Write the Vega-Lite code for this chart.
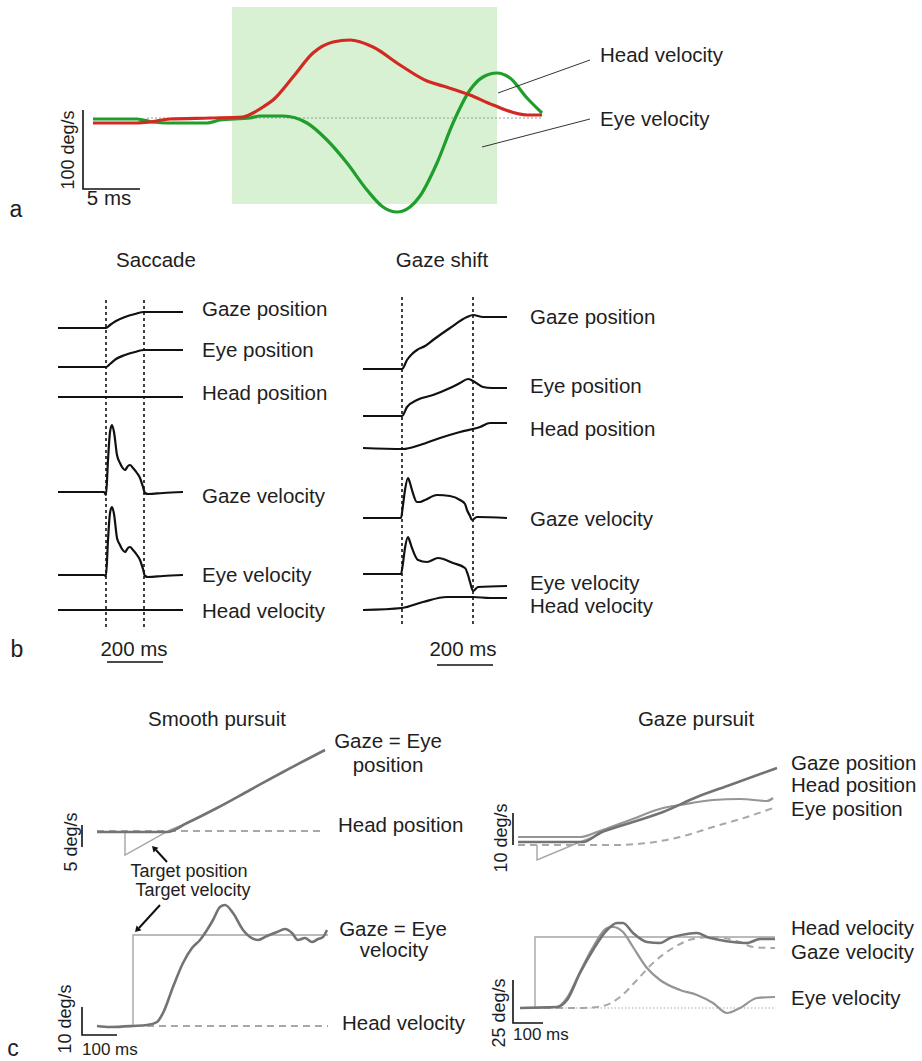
{
  "$schema": "https://vega.github.io/schema/vega-lite/v6.json",
  "width": 922,
  "height": 1061,
  "padding": 0,
  "autosize": {"type": "none"},
  "background": "white",
  "config": {"view": {"stroke": null}, "text": {"font": "Liberation Sans", "color": "#1e1e1e"}},
  "datasets": {
    "bands": [{"x": 232, "x2": 497, "y": 7, "y2": 204}],
    "traces": [
      {"trace": "a_eye", "x": 93, "y": 119}, {"trace": "a_eye", "x": 137, "y": 119}, {"trace": "a_eye", "x": 153, "y": 122}, {"trace": "a_eye", "x": 167, "y": 123}, {"trace": "a_eye", "x": 207, "y": 123}, {"trace": "a_eye", "x": 220, "y": 120}, {"trace": "a_eye", "x": 250, "y": 118}, {"trace": "a_eye", "x": 260, "y": 116}, {"trace": "a_eye", "x": 283, "y": 116}, {"trace": "a_eye", "x": 307, "y": 123}, {"trace": "a_eye", "x": 327, "y": 140}, {"trace": "a_eye", "x": 347, "y": 163}, {"trace": "a_eye", "x": 367, "y": 190}, {"trace": "a_eye", "x": 383, "y": 207}, {"trace": "a_eye", "x": 397, "y": 212}, {"trace": "a_eye", "x": 410, "y": 207}, {"trace": "a_eye", "x": 420, "y": 196}, {"trace": "a_eye", "x": 437, "y": 163}, {"trace": "a_eye", "x": 453, "y": 123}, {"trace": "a_eye", "x": 470, "y": 90}, {"trace": "a_eye", "x": 483, "y": 77}, {"trace": "a_eye", "x": 497, "y": 73}, {"trace": "a_eye", "x": 510, "y": 78}, {"trace": "a_eye", "x": 527, "y": 98}, {"trace": "a_eye", "x": 542, "y": 113},
      {"trace": "a_head", "x": 93, "y": 123}, {"trace": "a_head", "x": 137, "y": 123}, {"trace": "a_head", "x": 150, "y": 122}, {"trace": "a_head", "x": 170, "y": 119}, {"trace": "a_head", "x": 210, "y": 118}, {"trace": "a_head", "x": 243, "y": 117}, {"trace": "a_head", "x": 253, "y": 113}, {"trace": "a_head", "x": 263, "y": 107}, {"trace": "a_head", "x": 273, "y": 100}, {"trace": "a_head", "x": 293, "y": 77}, {"trace": "a_head", "x": 313, "y": 53}, {"trace": "a_head", "x": 333, "y": 42}, {"trace": "a_head", "x": 350, "y": 40}, {"trace": "a_head", "x": 373, "y": 47}, {"trace": "a_head", "x": 400, "y": 65}, {"trace": "a_head", "x": 427, "y": 81}, {"trace": "a_head", "x": 443, "y": 86}, {"trace": "a_head", "x": 470, "y": 95}, {"trace": "a_head", "x": 493, "y": 105}, {"trace": "a_head", "x": 527, "y": 115}, {"trace": "a_head", "x": 542, "y": 115},
      {"trace": "a_base", "x": 147, "y": 118}, {"trace": "a_base", "x": 543, "y": 118},
      {"trace": "b_s_on", "x": 106, "y": 300}, {"trace": "b_s_on", "x": 106, "y": 630},
      {"trace": "b_s_off", "x": 144, "y": 300}, {"trace": "b_s_off", "x": 144, "y": 630},
      {"trace": "b_g_on", "x": 402, "y": 297}, {"trace": "b_g_on", "x": 402, "y": 625},
      {"trace": "b_g_off", "x": 473, "y": 297}, {"trace": "b_g_off", "x": 473, "y": 625},
      {"trace": "b_s_gazepos", "x": 58, "y": 328}, {"trace": "b_s_gazepos", "x": 106, "y": 328}, {"trace": "b_s_gazepos", "x": 110, "y": 325}, {"trace": "b_s_gazepos", "x": 116, "y": 321}, {"trace": "b_s_gazepos", "x": 125, "y": 317}, {"trace": "b_s_gazepos", "x": 135, "y": 314}, {"trace": "b_s_gazepos", "x": 144, "y": 312}, {"trace": "b_s_gazepos", "x": 150, "y": 312}, {"trace": "b_s_gazepos", "x": 183, "y": 312},
      {"trace": "b_s_eyepos", "x": 58, "y": 367}, {"trace": "b_s_eyepos", "x": 106, "y": 367}, {"trace": "b_s_eyepos", "x": 110, "y": 364}, {"trace": "b_s_eyepos", "x": 116, "y": 359}, {"trace": "b_s_eyepos", "x": 125, "y": 355}, {"trace": "b_s_eyepos", "x": 135, "y": 352}, {"trace": "b_s_eyepos", "x": 144, "y": 350}, {"trace": "b_s_eyepos", "x": 150, "y": 350}, {"trace": "b_s_eyepos", "x": 183, "y": 350},
      {"trace": "b_s_headpos", "x": 58, "y": 397}, {"trace": "b_s_headpos", "x": 183, "y": 397},
      {"trace": "b_s_gazevel", "x": 58, "y": 492}, {"trace": "b_s_gazevel", "x": 104, "y": 492}, {"trace": "b_s_gazevel", "x": 106, "y": 495}, {"trace": "b_s_gazevel", "x": 108, "y": 460}, {"trace": "b_s_gazevel", "x": 110, "y": 432}, {"trace": "b_s_gazevel", "x": 112, "y": 425}, {"trace": "b_s_gazevel", "x": 114, "y": 432}, {"trace": "b_s_gazevel", "x": 117, "y": 455}, {"trace": "b_s_gazevel", "x": 120, "y": 463}, {"trace": "b_s_gazevel", "x": 122, "y": 467}, {"trace": "b_s_gazevel", "x": 125, "y": 470}, {"trace": "b_s_gazevel", "x": 128, "y": 466}, {"trace": "b_s_gazevel", "x": 130, "y": 465}, {"trace": "b_s_gazevel", "x": 133, "y": 468}, {"trace": "b_s_gazevel", "x": 137, "y": 473}, {"trace": "b_s_gazevel", "x": 140, "y": 478}, {"trace": "b_s_gazevel", "x": 143, "y": 487}, {"trace": "b_s_gazevel", "x": 145, "y": 493}, {"trace": "b_s_gazevel", "x": 148, "y": 494}, {"trace": "b_s_gazevel", "x": 163, "y": 493}, {"trace": "b_s_gazevel", "x": 183, "y": 492},
      {"trace": "b_s_eyevel", "x": 58, "y": 575}, {"trace": "b_s_eyevel", "x": 104, "y": 575}, {"trace": "b_s_eyevel", "x": 106, "y": 576}, {"trace": "b_s_eyevel", "x": 108, "y": 540}, {"trace": "b_s_eyevel", "x": 110, "y": 513}, {"trace": "b_s_eyevel", "x": 112, "y": 507}, {"trace": "b_s_eyevel", "x": 114, "y": 514}, {"trace": "b_s_eyevel", "x": 117, "y": 538}, {"trace": "b_s_eyevel", "x": 120, "y": 545}, {"trace": "b_s_eyevel", "x": 122, "y": 549}, {"trace": "b_s_eyevel", "x": 125, "y": 552}, {"trace": "b_s_eyevel", "x": 128, "y": 548}, {"trace": "b_s_eyevel", "x": 130, "y": 547}, {"trace": "b_s_eyevel", "x": 133, "y": 550}, {"trace": "b_s_eyevel", "x": 137, "y": 555}, {"trace": "b_s_eyevel", "x": 140, "y": 560}, {"trace": "b_s_eyevel", "x": 143, "y": 569}, {"trace": "b_s_eyevel", "x": 145, "y": 576}, {"trace": "b_s_eyevel", "x": 148, "y": 577}, {"trace": "b_s_eyevel", "x": 163, "y": 576}, {"trace": "b_s_eyevel", "x": 183, "y": 575},
      {"trace": "b_s_headvel", "x": 58, "y": 610}, {"trace": "b_s_headvel", "x": 183, "y": 610},
      {"trace": "b_g_gazepos", "x": 363, "y": 369}, {"trace": "b_g_gazepos", "x": 402, "y": 369}, {"trace": "b_g_gazepos", "x": 407, "y": 360}, {"trace": "b_g_gazepos", "x": 412, "y": 354}, {"trace": "b_g_gazepos", "x": 417, "y": 350}, {"trace": "b_g_gazepos", "x": 425, "y": 346}, {"trace": "b_g_gazepos", "x": 433, "y": 340}, {"trace": "b_g_gazepos", "x": 450, "y": 328}, {"trace": "b_g_gazepos", "x": 467, "y": 317}, {"trace": "b_g_gazepos", "x": 473, "y": 315}, {"trace": "b_g_gazepos", "x": 483, "y": 317}, {"trace": "b_g_gazepos", "x": 507, "y": 317},
      {"trace": "b_g_eyepos", "x": 363, "y": 416}, {"trace": "b_g_eyepos", "x": 402, "y": 416}, {"trace": "b_g_eyepos", "x": 407, "y": 407}, {"trace": "b_g_eyepos", "x": 417, "y": 400}, {"trace": "b_g_eyepos", "x": 433, "y": 395}, {"trace": "b_g_eyepos", "x": 450, "y": 388}, {"trace": "b_g_eyepos", "x": 460, "y": 383}, {"trace": "b_g_eyepos", "x": 468, "y": 379}, {"trace": "b_g_eyepos", "x": 473, "y": 381}, {"trace": "b_g_eyepos", "x": 483, "y": 387}, {"trace": "b_g_eyepos", "x": 492, "y": 388}, {"trace": "b_g_eyepos", "x": 507, "y": 388},
      {"trace": "b_g_headpos", "x": 363, "y": 448}, {"trace": "b_g_headpos", "x": 403, "y": 449}, {"trace": "b_g_headpos", "x": 420, "y": 445}, {"trace": "b_g_headpos", "x": 440, "y": 438}, {"trace": "b_g_headpos", "x": 460, "y": 432}, {"trace": "b_g_headpos", "x": 480, "y": 427}, {"trace": "b_g_headpos", "x": 490, "y": 423}, {"trace": "b_g_headpos", "x": 507, "y": 423},
      {"trace": "b_g_gazevel", "x": 363, "y": 518}, {"trace": "b_g_gazevel", "x": 401, "y": 518}, {"trace": "b_g_gazevel", "x": 403, "y": 505}, {"trace": "b_g_gazevel", "x": 405, "y": 490}, {"trace": "b_g_gazevel", "x": 408, "y": 478}, {"trace": "b_g_gazevel", "x": 410, "y": 483}, {"trace": "b_g_gazevel", "x": 412, "y": 490}, {"trace": "b_g_gazevel", "x": 417, "y": 502}, {"trace": "b_g_gazevel", "x": 420, "y": 502}, {"trace": "b_g_gazevel", "x": 425, "y": 500}, {"trace": "b_g_gazevel", "x": 437, "y": 495}, {"trace": "b_g_gazevel", "x": 450, "y": 496}, {"trace": "b_g_gazevel", "x": 460, "y": 500}, {"trace": "b_g_gazevel", "x": 465, "y": 504}, {"trace": "b_g_gazevel", "x": 467, "y": 510}, {"trace": "b_g_gazevel", "x": 470, "y": 516}, {"trace": "b_g_gazevel", "x": 472, "y": 520}, {"trace": "b_g_gazevel", "x": 477, "y": 517}, {"trace": "b_g_gazevel", "x": 507, "y": 518},
      {"trace": "b_g_eyevel", "x": 363, "y": 574}, {"trace": "b_g_eyevel", "x": 401, "y": 574}, {"trace": "b_g_eyevel", "x": 403, "y": 563}, {"trace": "b_g_eyevel", "x": 405, "y": 548}, {"trace": "b_g_eyevel", "x": 408, "y": 537}, {"trace": "b_g_eyevel", "x": 410, "y": 542}, {"trace": "b_g_eyevel", "x": 412, "y": 548}, {"trace": "b_g_eyevel", "x": 418, "y": 560}, {"trace": "b_g_eyevel", "x": 427, "y": 562}, {"trace": "b_g_eyevel", "x": 438, "y": 558}, {"trace": "b_g_eyevel", "x": 453, "y": 563}, {"trace": "b_g_eyevel", "x": 465, "y": 568}, {"trace": "b_g_eyevel", "x": 468, "y": 575}, {"trace": "b_g_eyevel", "x": 470, "y": 582}, {"trace": "b_g_eyevel", "x": 473, "y": 591}, {"trace": "b_g_eyevel", "x": 478, "y": 587}, {"trace": "b_g_eyevel", "x": 507, "y": 586},
      {"trace": "b_g_headvel", "x": 363, "y": 610}, {"trace": "b_g_headvel", "x": 402, "y": 608}, {"trace": "b_g_headvel", "x": 423, "y": 602}, {"trace": "b_g_headvel", "x": 447, "y": 597}, {"trace": "b_g_headvel", "x": 473, "y": 597}, {"trace": "b_g_headvel", "x": 490, "y": 598}, {"trace": "b_g_headvel", "x": 507, "y": 598},
      {"trace": "c_s_tpos", "x": 125, "y": 832}, {"trace": "c_s_tpos", "x": 125, "y": 855}, {"trace": "c_s_tpos", "x": 170, "y": 830}, {"trace": "c_s_tpos", "x": 187, "y": 823}, {"trace": "c_s_tpos", "x": 217, "y": 808}, {"trace": "c_s_tpos", "x": 250, "y": 790}, {"trace": "c_s_tpos", "x": 283, "y": 772}, {"trace": "c_s_tpos", "x": 325, "y": 750},
      {"trace": "c_s_headpos", "x": 97, "y": 831}, {"trace": "c_s_headpos", "x": 325, "y": 831},
      {"trace": "c_s_pos", "x": 97, "y": 832}, {"trace": "c_s_pos", "x": 167, "y": 832}, {"trace": "c_s_pos", "x": 187, "y": 823}, {"trace": "c_s_pos", "x": 217, "y": 808}, {"trace": "c_s_pos", "x": 250, "y": 790}, {"trace": "c_s_pos", "x": 283, "y": 772}, {"trace": "c_s_pos", "x": 325, "y": 750},
      {"trace": "c_s_tvel", "x": 133, "y": 1027}, {"trace": "c_s_tvel", "x": 133, "y": 935}, {"trace": "c_s_tvel", "x": 328, "y": 935},
      {"trace": "c_s_headvel", "x": 147, "y": 1026}, {"trace": "c_s_headvel", "x": 328, "y": 1026},
      {"trace": "c_s_vel", "x": 97, "y": 1026}, {"trace": "c_s_vel", "x": 110, "y": 1027}, {"trace": "c_s_vel", "x": 133, "y": 1026}, {"trace": "c_s_vel", "x": 147, "y": 1025}, {"trace": "c_s_vel", "x": 157, "y": 1022}, {"trace": "c_s_vel", "x": 163, "y": 1013}, {"trace": "c_s_vel", "x": 173, "y": 987}, {"trace": "c_s_vel", "x": 183, "y": 963}, {"trace": "c_s_vel", "x": 192, "y": 948}, {"trace": "c_s_vel", "x": 200, "y": 940}, {"trace": "c_s_vel", "x": 207, "y": 930}, {"trace": "c_s_vel", "x": 213, "y": 920}, {"trace": "c_s_vel", "x": 220, "y": 907}, {"trace": "c_s_vel", "x": 225, "y": 905}, {"trace": "c_s_vel", "x": 233, "y": 913}, {"trace": "c_s_vel", "x": 243, "y": 930}, {"trace": "c_s_vel", "x": 250, "y": 937}, {"trace": "c_s_vel", "x": 258, "y": 940}, {"trace": "c_s_vel", "x": 267, "y": 936}, {"trace": "c_s_vel", "x": 277, "y": 932}, {"trace": "c_s_vel", "x": 285, "y": 929}, {"trace": "c_s_vel", "x": 292, "y": 933}, {"trace": "c_s_vel", "x": 298, "y": 940}, {"trace": "c_s_vel", "x": 305, "y": 938}, {"trace": "c_s_vel", "x": 312, "y": 942}, {"trace": "c_s_vel", "x": 318, "y": 939}, {"trace": "c_s_vel", "x": 323, "y": 937}, {"trace": "c_s_vel", "x": 327, "y": 930},
      {"trace": "c_g_tpos", "x": 537, "y": 845}, {"trace": "c_g_tpos", "x": 537, "y": 860}, {"trace": "c_g_tpos", "x": 580, "y": 842}, {"trace": "c_g_tpos", "x": 600, "y": 834},
      {"trace": "c_g_headpos", "x": 518, "y": 845}, {"trace": "c_g_headpos", "x": 580, "y": 845}, {"trace": "c_g_headpos", "x": 613, "y": 845}, {"trace": "c_g_headpos", "x": 647, "y": 843}, {"trace": "c_g_headpos", "x": 680, "y": 837}, {"trace": "c_g_headpos", "x": 713, "y": 827}, {"trace": "c_g_headpos", "x": 747, "y": 817}, {"trace": "c_g_headpos", "x": 773, "y": 808},
      {"trace": "c_g_eyepos", "x": 518, "y": 837}, {"trace": "c_g_eyepos", "x": 580, "y": 837}, {"trace": "c_g_eyepos", "x": 597, "y": 832}, {"trace": "c_g_eyepos", "x": 630, "y": 820}, {"trace": "c_g_eyepos", "x": 663, "y": 808}, {"trace": "c_g_eyepos", "x": 680, "y": 805}, {"trace": "c_g_eyepos", "x": 713, "y": 800}, {"trace": "c_g_eyepos", "x": 740, "y": 799}, {"trace": "c_g_eyepos", "x": 767, "y": 801}, {"trace": "c_g_eyepos", "x": 773, "y": 798},
      {"trace": "c_g_gazepos", "x": 518, "y": 842}, {"trace": "c_g_gazepos", "x": 583, "y": 842}, {"trace": "c_g_gazepos", "x": 600, "y": 833}, {"trace": "c_g_gazepos", "x": 630, "y": 823}, {"trace": "c_g_gazepos", "x": 663, "y": 812}, {"trace": "c_g_gazepos", "x": 697, "y": 797}, {"trace": "c_g_gazepos", "x": 730, "y": 785}, {"trace": "c_g_gazepos", "x": 777, "y": 768},
      {"trace": "c_g_tvel", "x": 535, "y": 1008}, {"trace": "c_g_tvel", "x": 535, "y": 937}, {"trace": "c_g_tvel", "x": 775, "y": 937},
      {"trace": "c_g_base", "x": 520, "y": 1008}, {"trace": "c_g_base", "x": 775, "y": 1008},
      {"trace": "c_g_gazevel", "x": 520, "y": 1008}, {"trace": "c_g_gazevel", "x": 580, "y": 1008}, {"trace": "c_g_gazevel", "x": 603, "y": 1006}, {"trace": "c_g_gazevel", "x": 620, "y": 997}, {"trace": "c_g_gazevel", "x": 637, "y": 980}, {"trace": "c_g_gazevel", "x": 653, "y": 963}, {"trace": "c_g_gazevel", "x": 673, "y": 948}, {"trace": "c_g_gazevel", "x": 693, "y": 939}, {"trace": "c_g_gazevel", "x": 713, "y": 937}, {"trace": "c_g_gazevel", "x": 740, "y": 942}, {"trace": "c_g_gazevel", "x": 753, "y": 947}, {"trace": "c_g_gazevel", "x": 775, "y": 948},
      {"trace": "c_g_eyevel", "x": 520, "y": 1008}, {"trace": "c_g_eyevel", "x": 557, "y": 1007}, {"trace": "c_g_eyevel", "x": 567, "y": 998}, {"trace": "c_g_eyevel", "x": 580, "y": 972}, {"trace": "c_g_eyevel", "x": 593, "y": 947}, {"trace": "c_g_eyevel", "x": 607, "y": 928}, {"trace": "c_g_eyevel", "x": 613, "y": 927}, {"trace": "c_g_eyevel", "x": 623, "y": 932}, {"trace": "c_g_eyevel", "x": 633, "y": 947}, {"trace": "c_g_eyevel", "x": 647, "y": 968}, {"trace": "c_g_eyevel", "x": 660, "y": 980}, {"trace": "c_g_eyevel", "x": 680, "y": 990}, {"trace": "c_g_eyevel", "x": 697, "y": 995}, {"trace": "c_g_eyevel", "x": 713, "y": 1003}, {"trace": "c_g_eyevel", "x": 727, "y": 1013}, {"trace": "c_g_eyevel", "x": 740, "y": 1008}, {"trace": "c_g_eyevel", "x": 757, "y": 998}, {"trace": "c_g_eyevel", "x": 775, "y": 997},
      {"trace": "c_g_headvel", "x": 520, "y": 1008}, {"trace": "c_g_headvel", "x": 557, "y": 1007}, {"trace": "c_g_headvel", "x": 567, "y": 1000}, {"trace": "c_g_headvel", "x": 580, "y": 973}, {"trace": "c_g_headvel", "x": 593, "y": 950}, {"trace": "c_g_headvel", "x": 607, "y": 930}, {"trace": "c_g_headvel", "x": 617, "y": 923}, {"trace": "c_g_headvel", "x": 623, "y": 923}, {"trace": "c_g_headvel", "x": 633, "y": 933}, {"trace": "c_g_headvel", "x": 647, "y": 942}, {"trace": "c_g_headvel", "x": 660, "y": 943}, {"trace": "c_g_headvel", "x": 670, "y": 938}, {"trace": "c_g_headvel", "x": 687, "y": 934}, {"trace": "c_g_headvel", "x": 697, "y": 933}, {"trace": "c_g_headvel", "x": 707, "y": 937}, {"trace": "c_g_headvel", "x": 720, "y": 940}, {"trace": "c_g_headvel", "x": 733, "y": 942}, {"trace": "c_g_headvel", "x": 747, "y": 943}, {"trace": "c_g_headvel", "x": 760, "y": 939}, {"trace": "c_g_headvel", "x": 775, "y": 939},
      {"trace": "sb_a", "x": 83, "y": 110}, {"trace": "sb_a", "x": 83, "y": 189}, {"trace": "sb_a", "x": 140, "y": 189},
      {"trace": "sb_bs", "x": 107, "y": 662}, {"trace": "sb_bs", "x": 163, "y": 662},
      {"trace": "sb_bg", "x": 437, "y": 665}, {"trace": "sb_bg", "x": 493, "y": 665},
      {"trace": "sb_cs1", "x": 82, "y": 825}, {"trace": "sb_cs1", "x": 82, "y": 847},
      {"trace": "sb_cs2", "x": 82, "y": 1007}, {"trace": "sb_cs2", "x": 82, "y": 1035}, {"trace": "sb_cs2", "x": 117, "y": 1035},
      {"trace": "sb_cg1", "x": 513, "y": 813}, {"trace": "sb_cg1", "x": 513, "y": 845},
      {"trace": "sb_cg2", "x": 513, "y": 980}, {"trace": "sb_cg2", "x": 513, "y": 1023}, {"trace": "sb_cg2", "x": 543, "y": 1023},
      {"trace": "lead_head", "x": 590, "y": 60}, {"trace": "lead_head", "x": 498, "y": 93},
      {"trace": "lead_eye", "x": 590, "y": 119}, {"trace": "lead_eye", "x": 482, "y": 147},
      {"trace": "arr1", "x": 167, "y": 862}, {"trace": "arr1", "x": 156, "y": 850},
      {"trace": "arr2", "x": 160, "y": 905}, {"trace": "arr2", "x": 139, "y": 928}
    ],
    "heads1": [{"x": 154, "y": 848}],
    "heads2": [{"x": 137, "y": 930}],
    "labelsL": [
      {"text": "Head velocity", "x": 600, "y": 56},
      {"text": "Eye velocity", "x": 600, "y": 120},
      {"text": "Gaze position", "x": 202, "y": 310},
      {"text": "Eye position", "x": 202, "y": 351},
      {"text": "Head position", "x": 202, "y": 394},
      {"text": "Gaze velocity", "x": 202, "y": 497},
      {"text": "Eye velocity", "x": 202, "y": 576},
      {"text": "Head velocity", "x": 202, "y": 612},
      {"text": "Gaze position", "x": 530, "y": 318},
      {"text": "Eye position", "x": 530, "y": 387},
      {"text": "Head position", "x": 530, "y": 430},
      {"text": "Gaze velocity", "x": 530, "y": 520},
      {"text": "Eye velocity", "x": 530, "y": 584},
      {"text": "Head velocity", "x": 530, "y": 607},
      {"text": "Head position", "x": 338, "y": 826},
      {"text": "Head velocity", "x": 342, "y": 1024},
      {"text": "Gaze position", "x": 791, "y": 764},
      {"text": "Head position", "x": 791, "y": 786},
      {"text": "Eye position", "x": 791, "y": 810},
      {"text": "Head velocity", "x": 791, "y": 929},
      {"text": "Gaze velocity", "x": 791, "y": 953},
      {"text": "Eye velocity", "x": 791, "y": 999}
    ],
    "labelsC": [
      {"text": "Saccade", "x": 156, "y": 261},
      {"text": "Gaze shift", "x": 442, "y": 261},
      {"text": "Smooth pursuit", "x": 217, "y": 720},
      {"text": "Gaze pursuit", "x": 696, "y": 720},
      {"text": "Gaze = Eye", "x": 388, "y": 742},
      {"text": "position", "x": 388, "y": 766},
      {"text": "Gaze = Eye", "x": 393, "y": 930},
      {"text": "velocity", "x": 394, "y": 951},
      {"text": "5 ms", "x": 109, "y": 199},
      {"text": "200 ms", "x": 134, "y": 650},
      {"text": "200 ms", "x": 463, "y": 650}
    ],
    "smallC": [
      {"text": "Target position", "x": 189, "y": 872},
      {"text": "Target velocity", "x": 193, "y": 891}
    ],
    "tinyL": [
      {"text": "100 ms", "x": 82, "y": 1050},
      {"text": "100 ms", "x": 513, "y": 1035}
    ],
    "vert": [
      {"text": "100 deg/s", "x": 69, "y": 150},
      {"text": "5 deg/s", "x": 72, "y": 842},
      {"text": "10 deg/s", "x": 66, "y": 1019},
      {"text": "10 deg/s", "x": 502, "y": 838},
      {"text": "25 deg/s", "x": 500, "y": 1013}
    ],
    "letters": [
      {"text": "a", "x": 16, "y": 210},
      {"text": "b", "x": 17, "y": 650},
      {"text": "c", "x": 13, "y": 1049}
    ]
  },
  "encoding": {
    "x": {"field": "x", "type": "quantitative", "scale": {"domain": [0, 922], "nice": false, "zero": false}, "axis": null},
    "y": {"field": "y", "type": "quantitative", "scale": {"domain": [0, 1061], "nice": false, "zero": false, "reverse": true}, "axis": null}
  },
  "layer": [
    {"data": {"name": "bands"}, "mark": {"type": "rect", "color": "#d8f1d2"}, "encoding": {"x2": {"field": "x2"}, "y2": {"field": "y2"}}},
    {"data": {"name": "traces"}, "transform": [{"filter": {"field": "trace", "equal": "a_base"}}], "mark": {"type": "line", "color": "#9a9a9a", "strokeWidth": 1, "strokeDash": [2, 2]}, "encoding": {"detail": {"field": "trace"}, "order": {"value": null}}},
    {"data": {"name": "traces"}, "transform": [{"filter": {"field": "trace", "equal": "a_eye"}}], "mark": {"type": "line", "color": "#1f9e2c", "strokeWidth": 3.2, "strokeJoin": "round", "interpolate": "monotone"}, "encoding": {"detail": {"field": "trace"}, "order": {"value": null}}},
    {"data": {"name": "traces"}, "transform": [{"filter": {"field": "trace", "equal": "a_head"}}], "mark": {"type": "line", "color": "#d22a22", "strokeWidth": 3.2, "strokeJoin": "round", "interpolate": "monotone"}, "encoding": {"detail": {"field": "trace"}, "order": {"value": null}}},
    {"data": {"name": "traces"}, "transform": [{"filter": {"field": "trace", "oneOf": ["b_s_on", "b_s_off", "b_g_on", "b_g_off"]}}], "mark": {"type": "line", "color": "#111", "strokeWidth": 1.6, "strokeDash": [3, 3]}, "encoding": {"detail": {"field": "trace"}, "order": {"value": null}}},
    {"data": {"name": "traces"}, "transform": [{"filter": {"field": "trace", "oneOf": ["b_s_gazepos", "b_s_eyepos", "b_s_headpos", "b_s_gazevel", "b_s_eyevel", "b_s_headvel", "b_g_gazepos", "b_g_eyepos", "b_g_headpos", "b_g_gazevel", "b_g_eyevel", "b_g_headvel"]}}], "mark": {"type": "line", "color": "#111", "strokeWidth": 2.2, "strokeJoin": "round", "interpolate": "monotone"}, "encoding": {"detail": {"field": "trace"}, "order": {"value": null}}},
    {"data": {"name": "traces"}, "transform": [{"filter": {"field": "trace", "oneOf": ["c_g_base"]}}], "mark": {"type": "line", "color": "#aaaaaa", "strokeWidth": 1, "strokeDash": [1.5, 2]}, "encoding": {"detail": {"field": "trace"}, "order": {"value": null}}},
    {"data": {"name": "traces"}, "transform": [{"filter": {"field": "trace", "oneOf": ["c_s_tpos", "c_s_tvel", "c_g_tpos", "c_g_tvel"]}}], "mark": {"type": "line", "color": "#a5a5a5", "strokeWidth": 1.4}, "encoding": {"detail": {"field": "trace"}, "order": {"value": null}}},
    {"data": {"name": "traces"}, "transform": [{"filter": {"field": "trace", "oneOf": ["c_s_headpos", "c_s_headvel", "c_g_headpos", "c_g_gazevel"]}}], "mark": {"type": "line", "color": "#a8a8a8", "strokeWidth": 2, "strokeDash": [7, 5], "interpolate": "monotone"}, "encoding": {"detail": {"field": "trace"}, "order": {"value": null}}},
    {"data": {"name": "traces"}, "transform": [{"filter": {"field": "trace", "oneOf": ["c_g_eyepos", "c_g_eyevel"]}}], "mark": {"type": "line", "color": "#959595", "strokeWidth": 2.2, "strokeJoin": "round", "interpolate": "monotone"}, "encoding": {"detail": {"field": "trace"}, "order": {"value": null}}},
    {"data": {"name": "traces"}, "transform": [{"filter": {"field": "trace", "oneOf": ["c_s_pos", "c_s_vel", "c_g_gazepos", "c_g_headvel"]}}], "mark": {"type": "line", "color": "#737373", "strokeWidth": 2.6, "strokeJoin": "round", "interpolate": "monotone"}, "encoding": {"detail": {"field": "trace"}, "order": {"value": null}}},
    {"data": {"name": "traces"}, "transform": [{"filter": {"field": "trace", "oneOf": ["sb_a", "sb_bs", "sb_bg", "sb_cs1", "sb_cs2", "sb_cg1", "sb_cg2"]}}], "mark": {"type": "line", "color": "#111", "strokeWidth": 1.6}, "encoding": {"detail": {"field": "trace"}, "order": {"value": null}}},
    {"data": {"name": "traces"}, "transform": [{"filter": {"field": "trace", "oneOf": ["lead_head", "lead_eye"]}}], "mark": {"type": "line", "color": "#333", "strokeWidth": 1}, "encoding": {"detail": {"field": "trace"}, "order": {"value": null}}},
    {"data": {"name": "traces"}, "transform": [{"filter": {"field": "trace", "oneOf": ["arr1", "arr2"]}}], "mark": {"type": "line", "color": "#111", "strokeWidth": 2}, "encoding": {"detail": {"field": "trace"}, "order": {"value": null}}},
    {"data": {"name": "heads1"}, "mark": {"type": "point", "shape": "triangle-up", "filled": true, "color": "#111", "size": 45, "angle": 317, "opacity": 1}},
    {"data": {"name": "heads2"}, "mark": {"type": "point", "shape": "triangle-up", "filled": true, "color": "#111", "size": 45, "angle": 223, "opacity": 1}},
    {"data": {"name": "labelsL"}, "mark": {"type": "text", "align": "left", "baseline": "middle", "fontSize": 20.5}, "encoding": {"text": {"field": "text"}}},
    {"data": {"name": "labelsC"}, "mark": {"type": "text", "align": "center", "baseline": "middle", "fontSize": 20.5}, "encoding": {"text": {"field": "text"}}},
    {"data": {"name": "smallC"}, "mark": {"type": "text", "align": "center", "baseline": "middle", "fontSize": 18}, "encoding": {"text": {"field": "text"}}},
    {"data": {"name": "tinyL"}, "mark": {"type": "text", "align": "left", "baseline": "middle", "fontSize": 17}, "encoding": {"text": {"field": "text"}}},
    {"data": {"name": "vert"}, "mark": {"type": "text", "align": "center", "baseline": "middle", "fontSize": 18, "angle": 270}, "encoding": {"text": {"field": "text"}}},
    {"data": {"name": "letters"}, "mark": {"type": "text", "align": "center", "baseline": "middle", "fontSize": 23}, "encoding": {"text": {"field": "text"}}}
  ]
}
